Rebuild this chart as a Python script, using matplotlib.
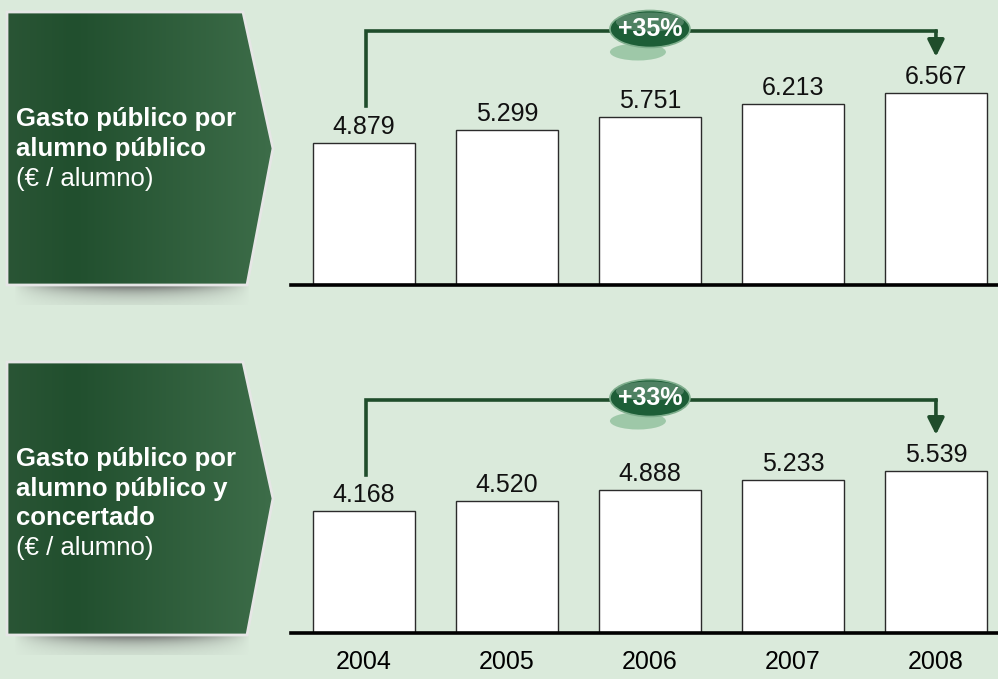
import numpy as np
import matplotlib
matplotlib.use("Agg")
import matplotlib.pyplot as plt
from matplotlib.patches import Polygon, Ellipse
from matplotlib.colors import LinearSegmentedColormap
from matplotlib.transforms import ScaledTranslation

plt.rcParams['font.family'] = ['Liberation Sans', 'DejaVu Sans']

# data
years = ['2004', '2005', '2006', '2007', '2008']
gasto_publico = [4879, 5299, 5751, 6213, 6567]
gasto_concertado = [4168, 4520, 4888, 5233, 5539]
growth_labels = ['+35%', '+33%']
panel_titles = [['Gasto público por', 'alumno público'],
                ['Gasto público por', 'alumno público y', 'concertado']]
unit_label = '(€ / alumno)'

BG = '#daeadb'
DARK = '#1f4d2b'

fig = plt.figure(figsize=(9.98, 6.79), dpi=100, facecolor=BG)

# background axes in pixel units for the left boxes
bg = fig.add_axes([0, 0, 1, 1], zorder=0)
bg.set_facecolor(BG)
bg.axis('off')

box_cmap = LinearSegmentedColormap.from_list(
    'box', [(0, '#2a5535'), (0.25, '#214f2e'), (1, '#3d6d49')])


def left_box(top, bottom, lines, baselines):
    mid = (top + bottom) / 2
    pts = [(7, top), (243, top), (273, mid), (247, bottom), (7, bottom)]
    # soft shadow under the box
    xs = np.linspace(0, 1, 200)
    ys = np.linspace(0, 1, 30)
    hx = np.clip(np.sin(np.pi * xs), 0, 1) ** 0.8
    vy = np.exp(-2.2 * ys)
    sh = np.zeros((30, 200, 4))
    sh[..., :3] = 0.38
    sh[..., 3] = 0.85 * np.outer(vy, hx)
    bg.imshow(sh, extent=(14, 250, bottom + 20, bottom + 1), aspect='auto', zorder=1)
    # gradient fill
    poly = Polygon(pts, closed=True, fc='none', ec='#e6e6e6', lw=2, zorder=3)
    bg.add_patch(poly)
    grad = np.linspace(0, 1, 256).reshape(1, -1)
    im = bg.imshow(grad, cmap=box_cmap, extent=(7, 273, bottom, top),
                   aspect='auto', zorder=2)
    im.set_clip_path(poly)
    for i, (txt, yb) in enumerate(zip(lines, baselines)):
        bold = i < len(lines) - 1
        bg.text(16, yb, txt, color='white', fontsize=18.5,
                fontweight='bold' if bold else 'normal', va='baseline', zorder=4)


left_box(12, 285, panel_titles[0] + [unit_label], [126, 156, 186])
left_box(362, 635, panel_titles[1] + [unit_label], [466, 496, 525, 555])
bg.set_xlim(0, 998)
bg.set_ylim(679, 0)

W, H = 998, 679
scale = 0.0292  # px per euro
yl = 285 / scale
x = np.arange(len(years))


def bar_panel(base_px, values, label, bracket_y, show_years):
    ax = fig.add_axes([291 / W, (H - base_px) / H, (998 - 291) / W, 285 / H], zorder=2)
    ax.set_facecolor('none')
    ax.bar(x, values, width=0.71, color='white', edgecolor='#2b2b2b', lw=1, zorder=2)
    ax.set_xlim(-0.51, 4.434)
    ax.set_ylim(0, yl)
    for s in ['top', 'left', 'right']:
        ax.spines[s].set_visible(False)
    ax.spines['bottom'].set_linewidth(2.6)
    ax.spines['bottom'].set_color('black')
    ax.spines['bottom'].set_zorder(3)
    ax.set_yticks([])
    ax.set_xticks(x)
    if show_years:
        ax.set_xticklabels(years, fontsize=18)
    else:
        ax.set_xticklabels([])
    ax.tick_params(axis='x', length=0, pad=12)
    for xi, v in zip(x, values):
        ax.annotate(f'{v:,}'.replace(',', '.'), xy=(xi, v), xytext=(0, 6.5),
                    textcoords='offset points', ha='center', va='baseline',
                    fontsize=18, color='#111111')
    # bracket
    gap = 1250
    ax.plot([x[0] + 0.015, x[0] + 0.015, x[-1]], [values[0] + gap, bracket_y, bracket_y],
            color=DARK, lw=2.6, solid_joinstyle='miter', zorder=3)
    ax.annotate('', xy=(x[-1], values[-1] + gap), xytext=(x[-1], bracket_y),
                arrowprops=dict(arrowstyle='-|>', color=DARK, lw=2.6,
                                mutation_scale=25, shrinkA=0, shrinkB=0),
                zorder=3)

    # badge, sized in pixels around the bracket midpoint
    cx = (x[0] + x[-1]) / 2

    def off(dx, dy):
        return (fig.dpi_scale_trans
                + ScaledTranslation(dx / 100, dy / 100, fig.dpi_scale_trans)
                + ScaledTranslation(cx, bracket_y, ax.transData))

    ax.add_patch(Ellipse((0, 0), 0.56, 0.17, transform=off(-12, -21),
                         fc='#94c2a0', ec='none', alpha=0.85, zorder=4, clip_on=False))
    ax.add_patch(Ellipse((0, 0), 0.80, 0.37, transform=off(0, 2),
                         fc='#1d5e37', ec='#7fae8d', lw=1.2, zorder=5, clip_on=False))
    ax.add_patch(Ellipse((0, 0), 0.68, 0.19, transform=off(0, 9),
                         fc='white', ec='none', alpha=0.22, zorder=6, clip_on=False))
    ax.text(0, 0, label, transform=off(0, -5), ha='center', va='baseline',
            color='white', fontsize=18, fontweight='bold', zorder=7)
    return ax


bar_panel(285, gasto_publico, growth_labels[0], 254 / scale, False)
bar_panel(633, gasto_concertado, growth_labels[1], 233 / scale, True)

fig.savefig('out.png', dpi=100, facecolor=BG)
